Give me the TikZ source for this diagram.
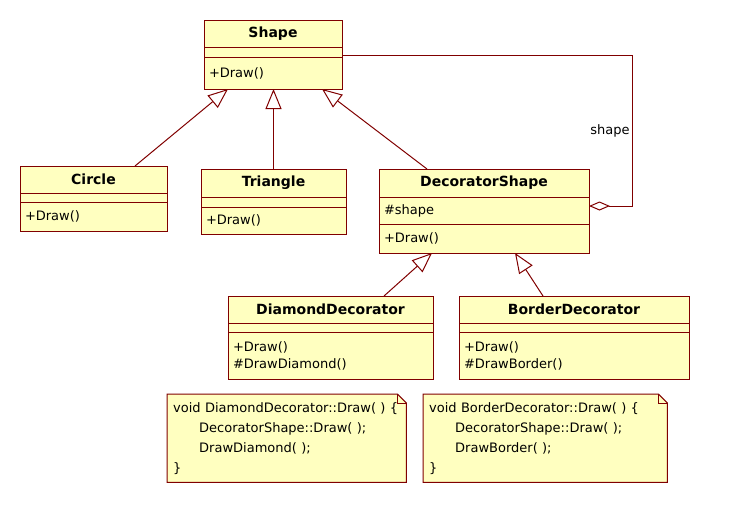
\documentclass[tikz,border=0pt]{standalone}
\usepackage{fontspec}
\setmainfont{DejaVu Sans}
\usetikzlibrary{positioning,arrows.meta,backgrounds}

\definecolor{umlfill}{RGB}{255,255,192}
\definecolor{umlline}{RGB}{128,0,0}

\tikzset{
  row/.style={draw=umlline, fill=umlfill, line width=1pt, inner xsep=5pt, inner ysep=0pt,
    outer sep=0pt, anchor=north west, align=left, font=\fontsize{13}{17}\selectfont},
  title/.style={row, align=center, font=\fontsize{14}{16}\selectfont\bfseries},
  gen/.style={draw=umlline, line width=1pt, -{Triangle[open, length=20pt, width=16pt, fill=white]}},
  agg/.style={draw=umlline, line width=1pt, {Diamond[open, length=21pt, width=9pt, fill=white]}-},
  note/.style={anchor=north west, inner xsep=6pt, inner ysep=0pt, align=left,
    font=\fontsize{13}{20}\selectfont},
  noteline/.style={draw=umlline, fill=umlfill, line width=1pt},
}

\begin{document}
\begin{tikzpicture}[x=1pt, y=-1pt]
  \useasboundingbox (0,0) rectangle (744,504);

  % classes
  \node (shape-t) [title, minimum width=138pt, minimum height=27pt] at (204,20) {Shape};
  \node (shape-a) [row, below=0pt of shape-t, minimum width=138pt, minimum height=10pt] {};
  \node (shape-m) [row, below=0pt of shape-a, text width=128pt, minimum height=32pt] {+Draw()};

  \node (circle-t) [title, minimum width=147pt, minimum height=27pt] at (20,166) {Circle};
  \node (circle-a) [row, below=0pt of circle-t, minimum width=147pt, minimum height=9pt] {};
  \node (circle-m) [row, below=0pt of circle-a, text width=137pt, minimum height=29pt] {+Draw()};

  \node (triangle-t) [title, minimum width=145pt, minimum height=28pt] at (201,169) {Triangle};
  \node (triangle-a) [row, below=0pt of triangle-t, minimum width=145pt, minimum height=10pt] {};
  \node (triangle-m) [row, below=0pt of triangle-a, text width=135pt, minimum height=27pt] {+Draw()};

  \node (deco-t) [title, minimum width=210pt, minimum height=28pt] at (379,169) {DecoratorShape};
  \node (deco-a) [row, below=0pt of deco-t, text width=200pt, minimum height=27pt] {\#shape};
  \node (deco-m) [row, below=0pt of deco-a, text width=200pt, minimum height=29pt] {+Draw()};

  \node (diamond-t) [title, minimum width=205pt, minimum height=27pt] at (228,296) {DiamondDecorator};
  \node (diamond-a) [row, below=0pt of diamond-t, minimum width=205pt, minimum height=9pt] {};
  \node (diamond-m) [row, below=0pt of diamond-a, text width=195pt, minimum height=47pt] {+Draw()\\\#DrawDiamond()};

  \node (border-t) [title, minimum width=230pt, minimum height=27pt] at (459,296) {BorderDecorator};
  \node (border-a) [row, below=0pt of border-t, minimum width=230pt, minimum height=9pt] {};
  \node (border-m) [row, below=0pt of border-a, text width=220pt, minimum height=47pt] {+Draw()\\\#DrawBorder()};

  % notes
  \node (noteL) [note, text width=227pt, minimum height=88pt] at (167,394)
    {void DiamondDecorator::Draw( ) \{\\\hspace*{26pt}DecoratorShape::Draw( );\\\hspace*{26pt}DrawDiamond( );\\\}};
  \node (noteR) [note, text width=232pt, minimum height=88pt] at (423,394)
    {void BorderDecorator::Draw( ) \{\\\hspace*{26pt}DecoratorShape::Draw( );\\\hspace*{26pt}DrawBorder( );\\\}};
  \begin{pgfonlayer}{background}
    \foreach \n in {noteL,noteR} {
      \draw[noteline] (\n.north west) -- ([xshift=-9pt]\n.north east) -- ([yshift=-9pt]\n.north east)
        -- (\n.south east) -- (\n.south west) -- cycle;
      \draw[draw=umlline, line width=1pt] ([xshift=-9pt]\n.north east) |- ([yshift=-9pt]\n.north east);
    }
  \end{pgfonlayer}

  % generalizations
  \draw[gen] ([xshift=41.5pt]circle-t.north) -- ([xshift=-45pt]shape-m.south);
  \draw[gen] (triangle-t.north) -- (triangle-t.north |- shape-m.south);
  \draw[gen] ([xshift=-57pt]deco-t.north) -- ([xshift=49pt]shape-m.south);
  \draw[gen] ([xshift=53.5pt]diamond-t.north) -- ([xshift=-52pt]deco-m.south);
  \draw[gen] ([xshift=-31pt]border-t.north) -- ([xshift=31pt]deco-m.south);

  % aggregation
  \coordinate (aggcorner) at (632,55);
  \draw[agg] ([yshift=4.5pt]deco-a.east) -| (aggcorner)
    node[pos=0.75, left, inner xsep=2pt, font=\fontsize{13}{16}\selectfont] {shape}
    -- (shape-a.east |- aggcorner);
\end{tikzpicture}
\end{document}
